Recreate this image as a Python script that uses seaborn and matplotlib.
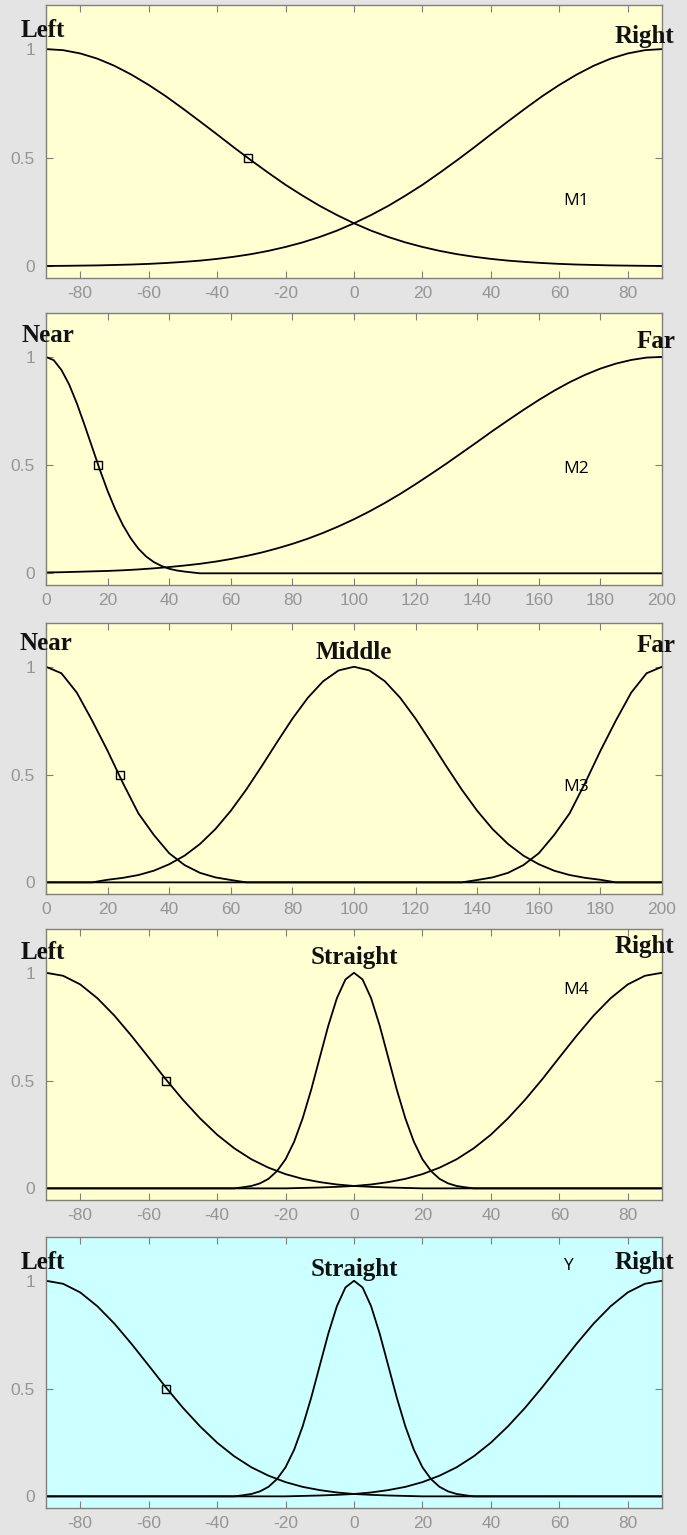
import matplotlib.pyplot as plt
import seaborn as sns

# ---- data ----
steer_x = list(range(-90, 95, 5))
dist_x = list(range(0, 205, 5))
steer_ticks = [-80, -60, -40, -20, 0, 20, 40, 60, 80]
dist_ticks = [0, 20, 40, 60, 80, 100, 120, 140, 160, 180, 200]

# M1: steering angle, Left / Right
m1_left = [1.00, 0.995, 0.98, 0.956, 0.923, 0.882, 0.835, 0.783, 0.726, 0.667,
           0.607, 0.546, 0.487, 0.430, 0.375, 0.325, 0.278, 0.236, 0.198, 0.164,
           0.135, 0.110, 0.089, 0.071, 0.056, 0.044, 0.034, 0.026, 0.020, 0.015,
           0.011, 0.008, 0.006, 0.004, 0.003, 0.002, 0.0015]
m1_right = [0.0015, 0.002, 0.003, 0.004, 0.006, 0.008, 0.011, 0.015, 0.020, 0.026,
            0.034, 0.044, 0.056, 0.071, 0.089, 0.110, 0.135, 0.164, 0.198, 0.236,
            0.278, 0.325, 0.375, 0.430, 0.487, 0.546, 0.607, 0.667, 0.726, 0.783,
            0.835, 0.882, 0.923, 0.956, 0.98, 0.995, 1.00]

# M2: distance, Near / Far
m2_near_x = [0, 2.5, 5, 7.5, 10, 12.5, 15, 17.5, 20, 22.5, 25, 27.5, 30, 32.5,
             35, 37.5, 40, 42.5, 45, 47.5, 50, 200]
m2_near = [1.0, 0.985, 0.94, 0.873, 0.786, 0.686, 0.582, 0.478, 0.381, 0.295,
           0.222, 0.162, 0.114, 0.078, 0.052, 0.034, 0.021, 0.013, 0.008, 0.004,
           0.0, 0.0]
m2_far = [0.004, 0.005, 0.007, 0.009, 0.011, 0.014, 0.018, 0.023, 0.029, 0.036,
          0.044, 0.054, 0.066, 0.080, 0.096, 0.115, 0.136, 0.160, 0.187, 0.217,
          0.250, 0.286, 0.325, 0.367, 0.412, 0.459, 0.507, 0.557, 0.607, 0.658,
          0.707, 0.755, 0.801, 0.844, 0.883, 0.917, 0.946, 0.969, 0.986, 0.997, 1.0]

# M3: distance, Near / Middle / Far
m3_near = [1.0, 0.97, 0.88, 0.75, 0.61, 0.46, 0.32, 0.22, 0.135, 0.080,
           0.044, 0.023, 0.011, 0, 0, 0, 0, 0, 0, 0,
           0, 0, 0, 0, 0, 0, 0, 0, 0, 0,
           0, 0, 0, 0, 0, 0, 0, 0, 0, 0, 0]
m3_middle = [0, 0, 0, 0, 0.012, 0.021, 0.034, 0.054, 0.084, 0.124,
             0.178, 0.247, 0.332, 0.430, 0.538, 0.650, 0.759, 0.856, 0.933, 0.983,
             1.0, 0.983, 0.933, 0.856, 0.759, 0.650, 0.538, 0.430, 0.332, 0.247,
             0.178, 0.124, 0.084, 0.054, 0.034, 0.021, 0.012, 0, 0, 0, 0]
m3_far = [0, 0, 0, 0, 0, 0, 0, 0, 0, 0,
          0, 0, 0, 0, 0, 0, 0, 0, 0, 0,
          0, 0, 0, 0, 0, 0, 0, 0, 0.011, 0.023,
          0.044, 0.080, 0.135, 0.22, 0.32, 0.46, 0.61, 0.75, 0.88, 0.97, 1.0]

# M4 and Y: steering, Left / Straight / Right
m4_left = [1.0, 0.986, 0.946, 0.882, 0.801, 0.707, 0.607, 0.506, 0.411, 0.325,
           0.249, 0.186, 0.135, 0.096, 0.066, 0.044, 0.029, 0.018, 0.011, 0.007,
           0.004, 0.002, 0, 0, 0, 0, 0, 0, 0, 0,
           0, 0, 0, 0, 0, 0, 0]
m4_right = [0, 0, 0, 0, 0, 0, 0, 0, 0, 0,
            0, 0, 0, 0, 0, 0.002, 0.004, 0.007, 0.011, 0.018,
            0.029, 0.044, 0.066, 0.096, 0.135, 0.186, 0.249, 0.325, 0.411, 0.506,
            0.607, 0.707, 0.801, 0.882, 0.946, 0.986, 1.0]
straight_x = [-90, -35, -32.5, -30, -27.5, -25, -22.5, -20, -17.5, -15, -12.5,
              -10, -7.5, -5, -2.5, 0, 2.5, 5, 7.5, 10, 12.5, 15, 17.5, 20,
              22.5, 25, 27.5, 30, 32.5, 35, 90]
m4_straight = [0, 0, 0.005, 0.011, 0.023, 0.044, 0.080, 0.135, 0.216, 0.325,
               0.458, 0.607, 0.755, 0.882, 0.969, 1.0, 0.969, 0.882, 0.755, 0.607,
               0.458, 0.325, 0.216, 0.135, 0.080, 0.044, 0.023, 0.011, 0.005, 0, 0]

# square marker on the first membership function (0.5 level)
marker_x = [-31, 17, 24, -55, -55]

# ---- styling ----
sns.set_style("ticks")
yellow = "#ffffd2"
cyan = "#ccffff"
spine_col = "#808078"
tick_col = "#959595"
label_font = ["Liberation Serif", "DejaVu Serif"]
tick_font = ["Liberation Sans Narrow", "Liberation Sans", "DejaVu Sans"]

panels = [
    dict(xlim=(-90, 90), ticks=steer_ticks, bg=yellow,
         curves=[(steer_x, m1_left), (steer_x, m1_right)],
         names=[("Left", -91, 1.055), ("Right", 85, 1.03)],
         tag=("M1", 65, 0.30), top=5, bottom=278),
    dict(xlim=(0, 200), ticks=dist_ticks, bg=yellow,
         curves=[(m2_near_x, m2_near), (dist_x, m2_far)],
         names=[("Near", 0.5, 1.07), ("Far", 198, 1.04)],
         tag=("M2", 172, 0.48), top=313, bottom=585),
    dict(xlim=(0, 200), ticks=dist_ticks, bg=yellow,
         curves=[(dist_x, m3_near), (dist_x, m3_middle), (dist_x, m3_far)],
         names=[("Near", 0, 1.078), ("Middle", 100, 1.037), ("Far", 198, 1.07)],
         tag=("M3", 172, 0.44), top=623, bottom=894),
    dict(xlim=(-90, 90), ticks=steer_ticks, bg=yellow,
         curves=[(steer_x, m4_left), (straight_x, m4_straight), (steer_x, m4_right)],
         names=[("Left", -91, 1.064), ("Straight", 0, 1.04), ("Right", 85, 1.09)],
         tag=("M4", 65, 0.92), top=929, bottom=1200),
    dict(xlim=(-90, 90), ticks=steer_ticks, bg=cyan,
         curves=[(steer_x, m4_left), (straight_x, m4_straight), (steer_x, m4_right)],
         names=[("Left", -91, 1.055), ("Straight", 0, 1.02), ("Right", 85, 1.055)],
         tag=("Y", 62.5, 1.07), top=1237, bottom=1508),
]

W, H = 687, 1535
fig = plt.figure(figsize=(W / 100, H / 100), dpi=100)
fig.patch.set_facecolor("#e4e4e4")

for i, p in enumerate(panels):
    ax = fig.add_axes([46 / W, 1 - p["bottom"] / H, (662 - 46) / W,
                       (p["bottom"] - p["top"]) / H])
    ax.set_facecolor(p["bg"])
    for xs, ys in p["curves"]:
        sns.lineplot(x=xs, y=ys, ax=ax, color="black", lw=1.3,
                     estimator=None, sort=False)
    ax.plot([marker_x[i]], [0.5], marker="s", ms=6, mfc="none", mec="black",
            mew=1.0, ls="none")

    ax.set_xlim(*p["xlim"])
    ax.set_ylim(-0.054, 1.203)
    ax.set_xticks(p["ticks"])
    ax.set_xticklabels([str(t) for t in p["ticks"]], family=tick_font,
                       fontsize=12.5, color=tick_col)
    ax.set_yticks([0, 0.5, 1])
    ax.set_yticklabels(["0", "0.5", "1"], family=tick_font, fontsize=12.5,
                       color=tick_col)
    ax.tick_params(axis="x", direction="in", length=5, width=0.8,
                   color=spine_col, top=True, pad=6)
    ax.tick_params(axis="y", direction="in", length=5, width=0.8,
                   color=spine_col, right=True, pad=8)
    for s in ax.spines.values():
        s.set_color(spine_col)
        s.set_linewidth(1.0)
    ax.set_xlabel("")
    ax.set_ylabel("")

    for name, tx, ty in p["names"]:
        ax.text(tx, ty, name, ha="center", va="baseline", fontsize=18,
                fontweight="bold", family=label_font, color="#111111")
    tag, gx, gy = p["tag"]
    ax.text(gx, gy, tag, ha="center", va="center", fontsize=12.5,
            family=["Open Sans", "DejaVu Sans"], color="black")

fig.savefig("out.png", dpi=100, facecolor=fig.get_facecolor())
